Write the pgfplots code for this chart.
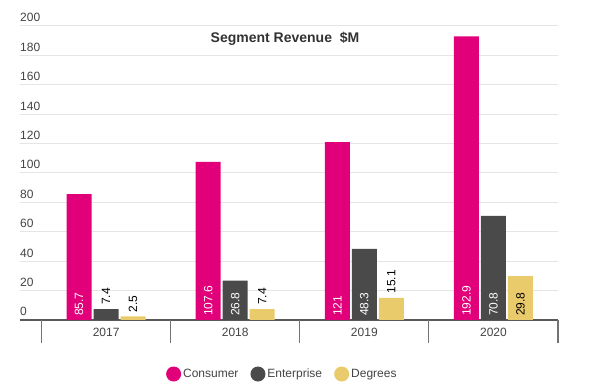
\documentclass[border=0pt]{standalone}
\usepackage{pgfplots}
\pgfplotsset{compat=1.18}
\usepackage{fontspec}
\setmainfont{Liberation Sans}
\definecolor{cons}{HTML}{E2007A}
\definecolor{ent}{HTML}{4A4A4A}
\definecolor{deg}{HTML}{EACB6C}
\definecolor{txt}{HTML}{444444}
\newcommand{\f}{\fontsize{12}{14}\selectfont}
\pgfplotsset{
  circleg/.style={legend image code/.code={\fill[##1] (4pt,0pt) circle (7.5pt);}},
  lab/.style 2 args={forget plot, draw=none, mark=none, point meta=explicit symbolic,
    nodes near coords, every node near coord/.append style={xshift=#1, rotate=90, anchor=west, text=#2, font=\f, inner sep=4pt}},
}
\begin{document}
\begin{tikzpicture}
\fill[white] (0,0) rectangle (600pt,388pt);
\useasboundingbox (0,0) rectangle (600pt,388pt);
\begin{axis}[
  at={(20pt,68pt)}, anchor=south west,
  scale only axis, width=538pt, height=294pt,
  xmin=-0.667, xmax=3.5, ymin=0, ymax=200,
  bar width=25pt,
  axis x line*=bottom, axis y line*=left,
  y axis line style={draw=none},
  x axis line style={draw=black!65, line width=1.5pt},
  ytick={0,20,...,200},
  ymajorgrids, major grid style={draw=black!10, line width=1pt},
  y tick style={draw=none},
  yticklabel style={anchor=base west, inner sep=0pt, yshift=4pt, font=\f, text=txt},
  /pgf/number format/assume math mode=true,
  xtick={0,1,2,3}, xticklabels={2017,2018,2019,2020},
  x tick style={draw=none},
  xticklabel style={font=\f, text=txt, yshift=-5pt},
  extra x ticks={-0.5,0.5,1.5,2.5,3.5},
  extra x tick labels={},
  extra x tick style={x tick style={draw=black!55, line width=1.2pt}, major tick length=23pt, tick align=outside, grid=none},
  legend style={draw=none, fill=none, at={(0.4876,-0.1837)}, anchor=center, legend columns=3,
    font=\f, text=txt, /tikz/every even column/.append style={column sep=10pt}},
]
\addplot[ybar, bar shift=-27pt, draw=none, fill=cons, circleg] coordinates {(0,85.7) (1,107.6) (2,121) (3,192.9)};
\addlegendentry{Consumer}
\addplot[ybar, bar shift=0pt, draw=none, fill=ent, circleg] coordinates {(0,7.4) (1,26.8) (2,48.3) (3,70.8)};
\addlegendentry{Enterprise}
\addplot[ybar, bar shift=27pt, draw=none, fill=deg, circleg] coordinates {(0,2.5) (1,7.4) (2,15.1) (3,29.8)};
\addlegendentry{Degrees}
% value labels
\addplot[lab={-27pt}{white}] coordinates {(0,0) [85.7] (1,0) [107.6] (2,0) [121] (3,0) [192.9]};
\addplot[lab={0pt}{white}] coordinates {(1,0) [26.8] (2,0) [48.3] (3,0) [70.8]};
\addplot[lab={0pt}{black}] coordinates {(0,7.4) [7.4]};
\addplot[lab={27pt}{black}] coordinates {(0,2.5) [2.5] (1,7.4) [7.4] (2,15.1) [15.1] (3,0) [29.8]};
\node[anchor=center, font=\fontsize{14}{16}\selectfont\bfseries, text=black!80] at (axis description cs:0.4926,0.956) {Segment Revenue~~\$M};
\end{axis}
\end{tikzpicture}
\end{document}
